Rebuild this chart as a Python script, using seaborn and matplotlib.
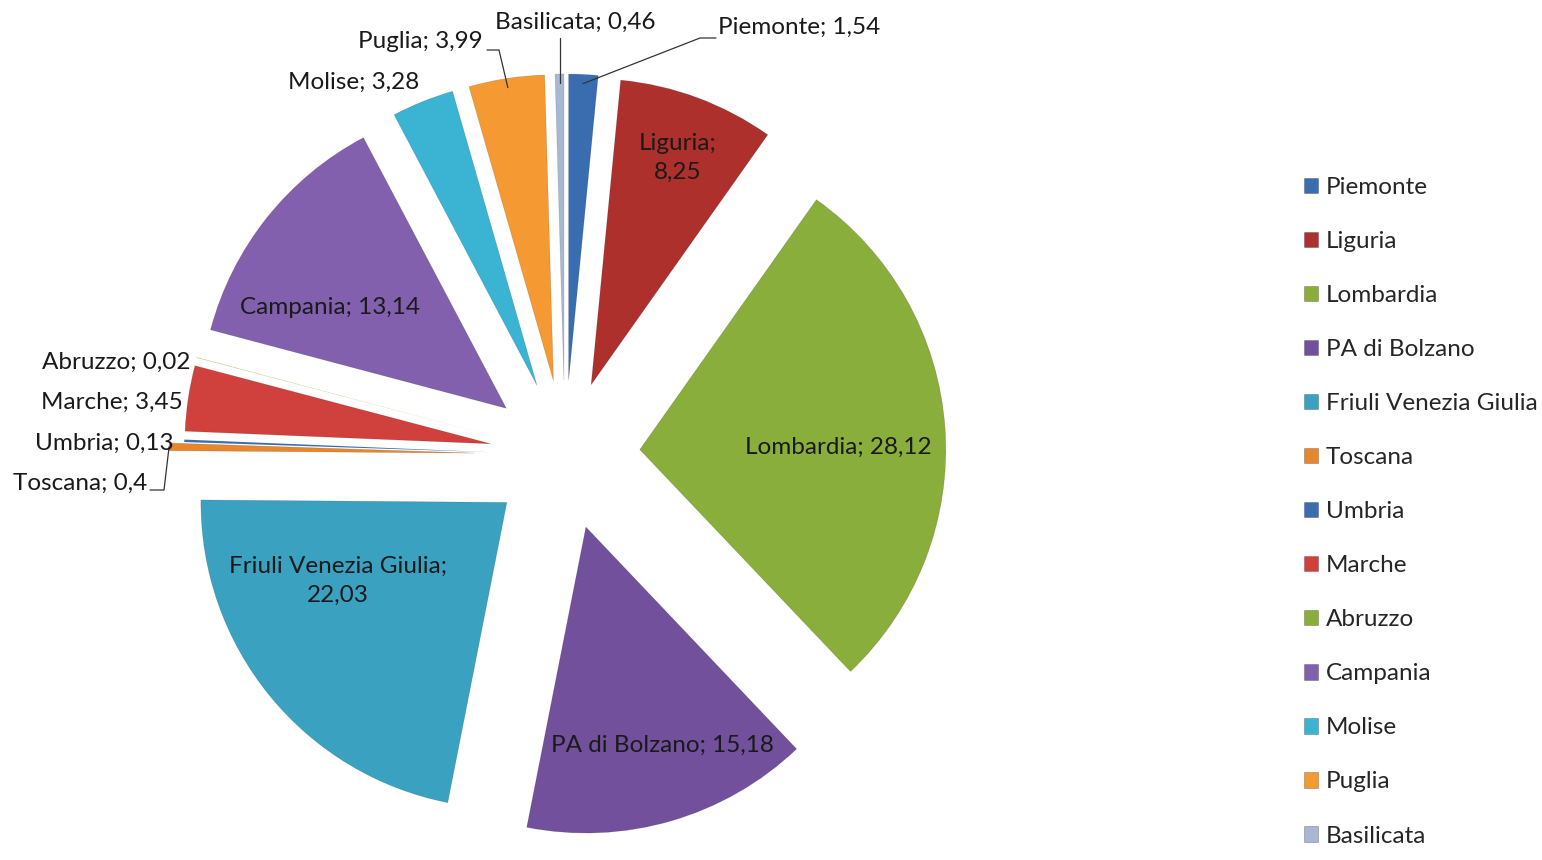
import numpy as np
import seaborn as sns
import matplotlib.pyplot as plt

# dati
regioni = ['Piemonte', 'Liguria', 'Lombardia', 'PA di Bolzano', 'Friuli Venezia Giulia',
           'Toscana', 'Umbria', 'Marche', 'Abruzzo', 'Campania', 'Molise', 'Puglia',
           'Basilicata']
valori = [1.54, 8.25, 28.12, 15.18, 22.03, 0.4, 0.13, 3.45, 0.02, 13.14, 3.28, 3.99, 0.46]
colori = ['#3A6DB0', '#AE302D', '#8AAE3C', '#72509C', '#3AA2C0', '#E8862E', '#3A6DB0',
          '#D0403C', '#8AAE3C', '#8260AE', '#3BB4D4', '#F59A32', '#A8B8D4']

W, H = 1542, 860
def py(y):  # pixel dall'alto -> coordinata asse
    return H - y

sns.set_style('white')
plt.rcParams['font.family'] = ['Lato', 'DejaVu Sans']

fig = plt.figure(figsize=(W / 100, H / 100), dpi=100)
ax = fig.add_axes([0, 0, 1, 1])

espl = [75] * len(valori)
espl[5] = 90  # Toscana un po' più staccata
wedges, _ = ax.pie(valori, colors=colori, startangle=90, counterclock=False,
                   explode=espl, center=(565, py(455)), radius=306,
                   wedgeprops=dict(edgecolor='#00000028', linewidth=0.5))
for i in (6, 8):  # fette quasi invisibili
    wedges[i].set_edgecolor('none')
ax.set_xlim(0, W)
ax.set_ylim(0, H)
ax.set_aspect('equal')
ax.axis('off')

def fmt(v):
    return f"{v:g}".replace('.', ',')

def punto(w, frac):
    t = np.deg2rad((w.theta1 + w.theta2) / 2)
    return w.center[0] + frac * w.r * np.cos(t), w.center[1] + frac * w.r * np.sin(t)

fs = 17.5
# etichette interne
interne = {1: (678, 158, 'Liguria;\n' + fmt(valori[1])),
           2: (838, 447, None), 3: (662, 745, None), 9: (330, 308, None),
           4: (338, 581, 'Friuli Venezia Giulia;\n' + fmt(valori[4]))}
for i, (x, y, t) in interne.items():
    if t is None:
        t = f"{regioni[i]}; {fmt(valori[i])}"
    ax.text(x, py(y), t, ha='center', va='center', fontsize=fs, color='#1a1a1a',
            linespacing=1.45)

# etichette esterne (x, y, allineamento)
esterne = {0: (718, 27, 'left'), 12: (575, 22, 'center'), 11: (483, 42, 'right'),
           10: (419, 82, 'right'), 8: (191, 362, 'right'), 7: (183, 402, 'right'),
           6: (174, 443, 'right'), 5: (147, 483, 'right')}
for i, (x, y, a) in esterne.items():
    ax.text(x, py(y), f"{regioni[i]}; {fmt(valori[i])}", ha=a, va='center',
            fontsize=fs, color='#1a1a1a')

# linee guida
lw = 0.9
x0, y0 = punto(wedges[0], 0.97)
ax.plot([x0, 700, 716], [y0, py(38), py(38)], color='#333333', lw=lw)
x0, y0 = punto(wedges[12], 0.97)
ax.plot([x0, x0], [y0, py(38)], color='#333333', lw=lw)
x0, y0 = punto(wedges[11], 0.97)
ax.plot([x0, 499, 487], [y0, py(50), py(50)], color='#333333', lw=lw)
x0, y0 = punto(wedges[5], 1.0)
ax.plot([x0, 164, 150], [y0, py(490), py(490)], color='#333333', lw=lw)

leg = ax.legend(wedges, regioni, loc='upper left', bbox_to_anchor=(1282 / W, 1 - 155 / H),
                frameon=False, fontsize=fs, handlelength=0.6, handleheight=0.6,
                handletextpad=0.3, labelspacing=1.36)
for h in leg.legend_handles:
    h.set_edgecolor('#00000040')
    h.set_linewidth(0.6)

fig.savefig('out.png', dpi=100)
